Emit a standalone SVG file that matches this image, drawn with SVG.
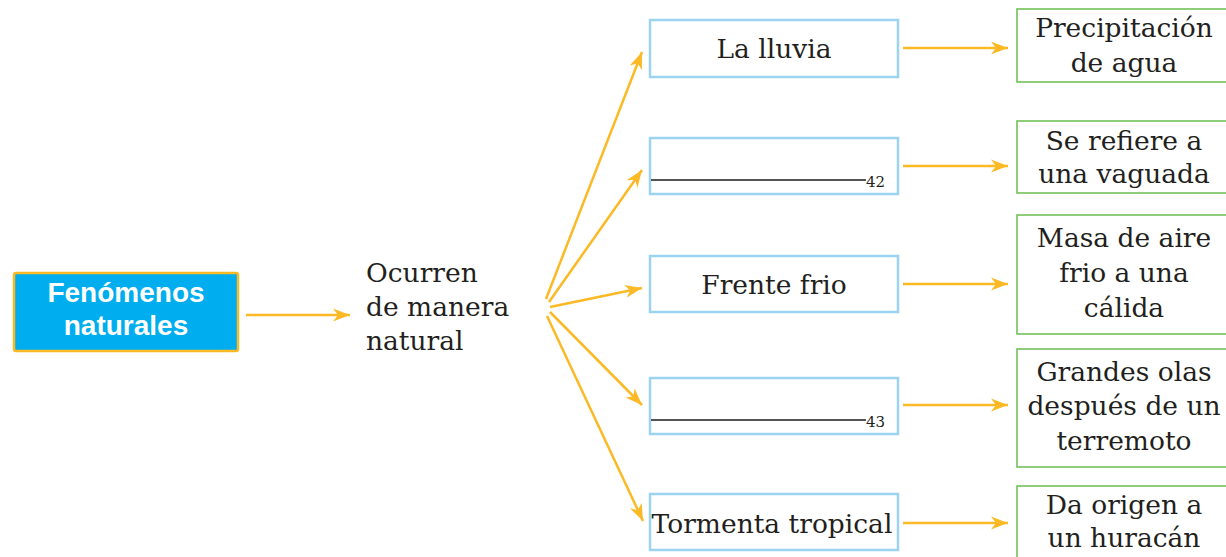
<svg xmlns="http://www.w3.org/2000/svg" width="1226" height="557" viewBox="0 0 1226 557">
<style>
.conn{stroke:#FBBA25;stroke-width:2.5;fill:none;marker-end:url(#ah)}
.mid{fill:#fff;stroke:#9BD3F1;stroke-width:2.5}
.res{fill:#fff;stroke:#72C15A;stroke-width:1.6}
.t{font-family:"DejaVu Serif","Liberation Serif",serif;font-size:26.5px;fill:#231F20}
.c{text-anchor:middle}
.num{font-family:"DejaVu Serif","Liberation Serif",serif;font-size:15px;fill:#231F20}
.blank{stroke:#555;stroke-width:1.8}
</style>
<defs>
<marker id="ah" markerUnits="userSpaceOnUse" markerWidth="19" markerHeight="15" refX="17" refY="7" orient="auto">
<path d="M0,0.5 L17,7 L0,13.5 L5,7 Z" fill="#FBBA25"/>
</marker>
</defs>
<rect width="1226" height="557" fill="#fff"/>
<g id="root">
<rect x="14" y="273" width="224" height="78" rx="2" fill="#00AEEF" stroke="#FBBA25" stroke-width="2.5"/>
<text x="126" y="302" text-anchor="middle" font-family="'Liberation Sans',Arial,sans-serif" font-weight="bold" font-size="28" fill="#fff">Fenómenos</text>
<text x="126" y="335" text-anchor="middle" font-family="'Liberation Sans',Arial,sans-serif" font-weight="bold" font-size="28" fill="#fff">naturales</text>
</g>
<g id="hub">
<text class="t" x="366" y="282">Ocurren</text>
<text class="t" x="366" y="316">de manera</text>
<text class="t" x="366" y="350">natural</text>
</g>
<g id="n-lluvia">
<rect class="mid" x="650" y="20" width="248" height="57"/>
<text class="t c" x="774" y="58">La lluvia</text>
</g>
<g id="n-42">
<rect class="mid" x="650" y="138" width="248" height="56"/>
<line class="blank" x1="651" y1="180" x2="866" y2="180"/>
<text class="num" x="866" y="187">42</text>
</g>
<g id="n-frente">
<rect class="mid" x="650" y="256" width="248" height="56"/>
<text class="t c" x="774" y="294">Frente frio</text>
</g>
<g id="n-43">
<rect class="mid" x="650" y="378" width="248" height="56"/>
<line class="blank" x1="651" y1="420" x2="866" y2="420"/>
<text class="num" x="866" y="427">43</text>
</g>
<g id="n-tormenta">
<rect class="mid" x="650" y="494" width="248" height="56"/>
<text class="t c" x="772" y="533">Tormenta tropical</text>
</g>
<g id="r-precip">
<rect class="res" x="1017" y="9" width="230" height="73"/>
<text class="t c" x="1124" y="37">Precipitación</text>
<text class="t c" x="1124" y="72">de agua</text>
</g>
<g id="r-vaguada">
<rect class="res" x="1017" y="121" width="230" height="72"/>
<text class="t c" x="1124" y="150">Se refiere a</text>
<text class="t c" x="1124" y="183">una vaguada</text>
</g>
<g id="r-masa">
<rect class="res" x="1017" y="215" width="230" height="119"/>
<text class="t c" x="1124" y="247">Masa de aire</text>
<text class="t c" x="1124" y="282">frio a una</text>
<text class="t c" x="1124" y="317">cálida</text>
</g>
<g id="r-olas">
<rect class="res" x="1017" y="349" width="230" height="118"/>
<text class="t c" x="1124" y="381">Grandes olas</text>
<text class="t c" x="1124" y="415">después de un</text>
<text class="t c" x="1124" y="450">terremoto</text>
</g>
<g id="r-huracan">
<rect class="res" x="1017" y="486" width="230" height="100"/>
<text class="t c" x="1124" y="514">Da origen a</text>
<text class="t c" x="1124" y="547">un huracán</text>
</g>
<g id="connectors">
<line class="conn" x1="246" y1="315" x2="350" y2="315"/>
<line class="conn" x1="546" y1="299" x2="642" y2="52"/>
<line class="conn" x1="549" y1="302" x2="642" y2="170"/>
<line class="conn" x1="550" y1="307" x2="642" y2="288"/>
<line class="conn" x1="550" y1="312" x2="642" y2="405"/>
<line class="conn" x1="547" y1="316" x2="643" y2="521"/>
<line class="conn" x1="903" y1="48" x2="1008" y2="48"/>
<line class="conn" x1="903" y1="166" x2="1008" y2="166"/>
<line class="conn" x1="903" y1="284" x2="1008" y2="284"/>
<line class="conn" x1="903" y1="405" x2="1008" y2="405"/>
<line class="conn" x1="903" y1="523" x2="1008" y2="523"/>
</g>
</svg>
